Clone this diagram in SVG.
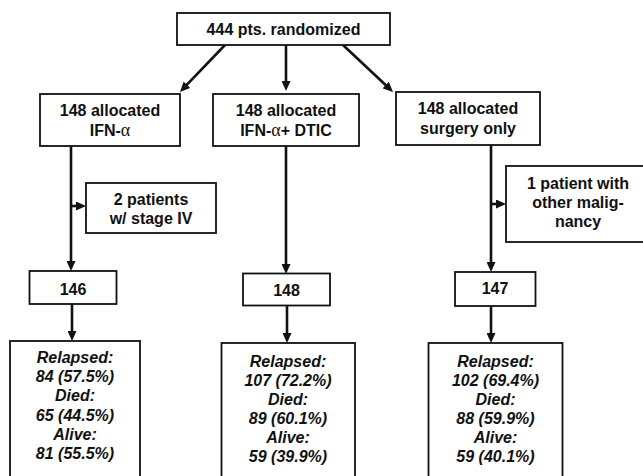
<svg xmlns="http://www.w3.org/2000/svg" width="643" height="476" viewBox="0 0 643 476">
<style>
.box{fill:#fff;stroke:#111;stroke-width:1.8}
.t{font-family:"Liberation Sans",Arial,sans-serif;font-weight:bold;font-size:16px;fill:#111;text-anchor:middle}
.ti{font-family:"Liberation Sans",Arial,sans-serif;font-weight:bold;font-style:italic;font-size:16px;fill:#111;text-anchor:middle}
.al{font-family:"Liberation Serif","DejaVu Serif",serif;font-weight:normal;font-size:18px}
.c{stroke:#111;stroke-width:2.6;fill:none;marker-end:url(#ah)}
</style>
<defs>
<marker id="ah" markerUnits="userSpaceOnUse" markerWidth="10" markerHeight="9" viewBox="0 0 10 9" refX="2" refY="4.5" orient="auto">
<path d="M0,0 L10,4.5 L0,9 z" fill="#111"/>
</marker>
</defs>
<rect width="643" height="476" fill="#fff"/>
<g id="connectors">
<line class="c" x1="225" y1="45" x2="185.5" y2="86.2"/>
<line class="c" x1="286" y1="45" x2="286" y2="83"/>
<line class="c" x1="343" y1="45" x2="387.2" y2="86.5"/>
<line class="c" x1="71" y1="146" x2="71" y2="263"/>
<line class="c" x1="286" y1="146" x2="286" y2="266"/>
<line class="c" x1="491" y1="145" x2="491" y2="264"/>
<line class="c" x1="71" y1="206" x2="78" y2="206"/>
<line class="c" x1="491" y1="204" x2="498" y2="204"/>
<line class="c" x1="72" y1="304" x2="72" y2="333"/>
<line class="c" x1="287" y1="305" x2="287" y2="335"/>
<line class="c" x1="491" y1="306" x2="491" y2="335"/>
</g>
<g id="n_random">
<rect class="box" x="177" y="13" width="213" height="32"/>
<text class="t" x="283.5" y="35">444 pts. randomized</text>
</g>
<g id="n_ifn">
<rect class="box" x="40" y="94" width="140" height="52"/>
<text class="t" x="110" y="116">148 allocated</text>
<text class="t" x="110" y="136">IFN-<tspan class="al">α</tspan></text>
</g>
<g id="n_ifndtic">
<rect class="box" x="213" y="94" width="146" height="52"/>
<text class="t" x="286" y="116">148 allocated</text>
<text class="t" x="286" y="136">IFN-<tspan class="al">α</tspan>+ DTIC</text>
</g>
<g id="n_surgery">
<rect class="box" x="396" y="92" width="144" height="53"/>
<text class="t" x="468" y="114">148 allocated</text>
<text class="t" x="468" y="134">surgery only</text>
</g>
<g id="n_stage4">
<rect class="box" x="86" y="183" width="130" height="50"/>
<text class="t" x="151" y="205">2 patients</text>
<text class="t" x="151" y="224">w/ stage IV</text>
</g>
<g id="n_malig">
<rect class="box" x="506" y="166" width="150" height="76"/>
<text class="t" x="578" y="189">1 patient with</text>
<text class="t" x="578" y="208">other malig-</text>
<text class="t" x="578" y="227">nancy</text>
</g>
<g id="n_146">
<rect class="box" x="29.5" y="271" width="87" height="33"/>
<text class="t" x="73" y="295">146</text>
</g>
<g id="n_148">
<rect class="box" x="243" y="273.5" width="87" height="32"/>
<text class="t" x="286.5" y="295.5">148</text>
</g>
<g id="n_147">
<rect class="box" x="455" y="272" width="80.5" height="34"/>
<text class="t" x="495" y="294">147</text>
</g>
<g id="n_out1">
<rect class="box" x="10" y="341" width="130" height="145"/>
<text class="ti" x="75" y="362.5">Relapsed:</text>
<text class="ti" x="75" y="382">84 (57.5%)</text>
<text class="ti" x="75" y="401">Died:</text>
<text class="ti" x="75" y="420.5">65 (44.5%)</text>
<text class="ti" x="75" y="439.5">Alive:</text>
<text class="ti" x="75" y="459">81 (55.5%)</text>
</g>
<g id="n_out2">
<rect class="box" x="221.5" y="343" width="133.5" height="145"/>
<text class="ti" x="288" y="367">Relapsed:</text>
<text class="ti" x="288" y="386">107 (72.2%)</text>
<text class="ti" x="288" y="405">Died:</text>
<text class="ti" x="288" y="424">89 (60.1%)</text>
<text class="ti" x="288" y="443">Alive:</text>
<text class="ti" x="288" y="462">59 (39.9%)</text>
</g>
<g id="n_out3">
<rect class="box" x="428.5" y="343" width="134" height="145"/>
<text class="ti" x="495.5" y="367">Relapsed:</text>
<text class="ti" x="495.5" y="386">102 (69.4%)</text>
<text class="ti" x="495.5" y="405">Died:</text>
<text class="ti" x="495.5" y="424">88 (59.9%)</text>
<text class="ti" x="495.5" y="443">Alive:</text>
<text class="ti" x="495.5" y="462">59 (40.1%)</text>
</g>
</svg>
